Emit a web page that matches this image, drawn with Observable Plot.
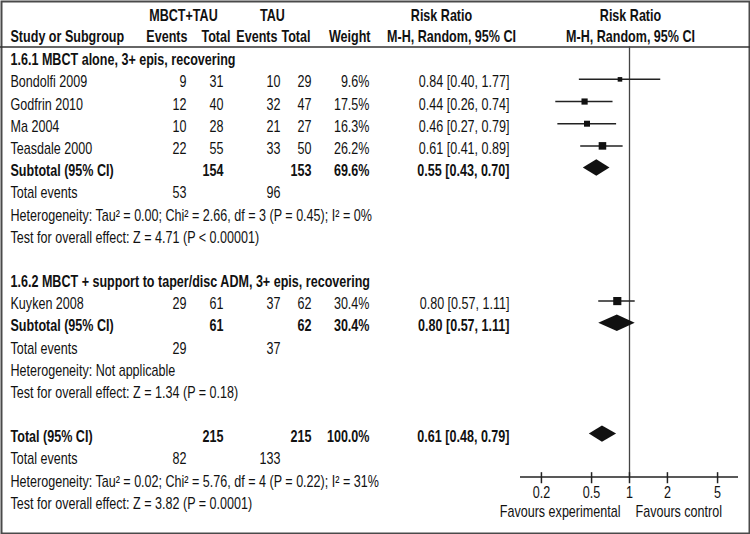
<!DOCTYPE html>
<html><head><meta charset="utf-8">
<script src="https://cdn.jsdelivr.net/npm/d3@7"></script>
<script src="https://cdn.jsdelivr.net/npm/@observablehq/plot@0.6"></script>
<style>
body{margin:0;background:#fff}
#chart svg{display:block}
</style>
</head><body><div id="chart"></div>
<script>
// ---------- data ----------
const groupTitles = ["1.6.1 MBCT alone, 3+ epis, recovering", "1.6.2 MBCT + support to taper/disc ADM, 3+ epis, recovering"];
const studies   = ["Bondolfi 2009", "Godfrin 2010", "Ma 2004", "Teasdale 2000", "Kuyken 2008"];
const studyGroup = [0, 0, 0, 0, 1];
const expEvents = [9, 12, 10, 22, 29];
const expTotal  = [31, 40, 28, 55, 61];
const ctlEvents = [10, 32, 21, 33, 37];
const ctlTotal  = [29, 47, 27, 50, 62];
const weights   = [9.6, 17.5, 16.3, 26.2, 30.4];
const riskRatio = [0.84, 0.44, 0.46, 0.61, 0.80];
const ciLow     = [0.40, 0.26, 0.27, 0.41, 0.57];
const ciHigh    = [1.77, 0.74, 0.79, 0.89, 1.11];

const subExpTotal  = [154, 61];
const subCtlTotal  = [153, 62];
const subWeight    = [69.6, 30.4];
const subExpEvents = [53, 29];
const subCtlEvents = [96, 37];
const subRR   = [0.55, 0.80];
const subLow  = [0.43, 0.57];
const subHigh = [0.70, 1.11];
const subHet  = ["Heterogeneity: Tau² = 0.00; Chi² = 2.66, df = 3 (P = 0.45); I² = 0%", "Heterogeneity: Not applicable"];
const subTest = ["Test for overall effect: Z = 4.71 (P < 0.00001)", "Test for overall effect: Z = 1.34 (P = 0.18)"];

const totExpTotal = 215, totCtlTotal = 215, totWeight = 100.0;
const totExpEvents = 82, totCtlEvents = 133;
const totRR = 0.61, totLow = 0.48, totHigh = 0.79;
const totHet  = "Heterogeneity: Tau² = 0.02; Chi² = 5.76, df = 4 (P = 0.22); I² = 31%";
const totTest = "Test for overall effect: Z = 3.82 (P = 0.0001)";

const headerTop = ["MBCT+TAU", "TAU", "Risk Ratio", "Risk Ratio"];
const headerBottom = ["Study or Subgroup", "Events", "Total", "Events", "Total", "Weight", "M-H, Random, 95% CI", "M-H, Random, 95% CI"];
const tickValues = [0.2, 0.5, 1, 2, 5];
const favourLabels = ["Favours experimental", "Favours control"];

// ---------- layout ----------
const FONT = "'Liberation Sans', Arial, sans-serif";
const FS = 16;
const NARROW = 0.785;
const colX = {label: 10, e1: 186, t1: 223, e2: 280, t2: 311, w: 369, rr: 509};
const colAnchor = {label: "start", e1: "end", t1: "end", e2: "end", t2: "end", w: "end", rr: "end"};
const headerTopX = [183, 272, 441, 630];
const headerBottomX = [10, 187, 230, 277, 310, 370, 451, 630];
const headerBottomAnchor = ["start", "end", "end", "end", "end", "end", "middle", "middle"];
const sepRow = -0.46, axisRow = 18.94, halfDiamond = 0.37;
const xDomain = [1 / 7.33, 7.33];

const fmt2 = v => v.toFixed(2);
const ciText = (m, l, h) => `${fmt2(m)} [${fmt2(l)}, ${fmt2(h)}]`;

const cells = [], forest = [], diamonds = [];
const add = (row, col, text, bold = false) => cells.push({row, col, text: String(text), bold});
let row = 0;
groupTitles.forEach((title, g) => {
  add(row, "label", title, true); row++;
  studies.forEach((s, i) => {
    if (studyGroup[i] !== g) return;
    add(row, "label", s); add(row, "e1", expEvents[i]); add(row, "t1", expTotal[i]);
    add(row, "e2", ctlEvents[i]); add(row, "t2", ctlTotal[i]);
    add(row, "w", weights[i].toFixed(1) + "%");
    add(row, "rr", ciText(riskRatio[i], ciLow[i], ciHigh[i]));
    forest.push({row, rr: riskRatio[i], lo: ciLow[i], hi: ciHigh[i], w: weights[i]});
    row++;
  });
  add(row, "label", "Subtotal (95% CI)", true); add(row, "t1", subExpTotal[g], true);
  add(row, "t2", subCtlTotal[g], true); add(row, "w", subWeight[g].toFixed(1) + "%", true);
  add(row, "rr", ciText(subRR[g], subLow[g], subHigh[g]), true);
  diamonds.push({row, est: subRR[g], lo: subLow[g], hi: subHigh[g], id: "s" + g});
  row++;
  add(row, "label", "Total events"); add(row, "e1", subExpEvents[g]); add(row, "e2", subCtlEvents[g]); row++;
  add(row, "label", subHet[g]); row++;
  add(row, "label", subTest[g]); row++;
  row++;
});
add(row, "label", "Total (95% CI)", true); add(row, "t1", totExpTotal, true); add(row, "t2", totCtlTotal, true);
add(row, "w", totWeight.toFixed(1) + "%", true); add(row, "rr", ciText(totRR, totLow, totHigh), true);
diamonds.push({row, est: totRR, lo: totLow, hi: totHigh, id: "t"});
row++;
add(row, "label", "Total events"); add(row, "e1", totExpEvents); add(row, "e2", totCtlEvents); row++;
add(row, "label", totHet); row++;
add(row, "label", totTest);
const lastRow = row;

const diamondPts = diamonds.flatMap(d => [
  {id: d.id, x: d.lo, y1: d.row, y2: d.row},
  {id: d.id, x: d.est, y1: d.row - halfDiamond, y2: d.row + halfDiamond},
  {id: d.id, x: d.hi, y1: d.row, y2: d.row}
]);

const TDY = 3;
const textMarks = [];
for (const col of Object.keys(colX)) {
  for (const bold of [false, true]) {
    const data = cells.filter(c => c.col === col && c.bold === bold);
    if (!data.length) continue;
    textMarks.push(Plot.text(data, {
      y: "row", text: "text", frameAnchor: "left", dx: colX[col], dy: TDY,
      textAnchor: colAnchor[col], fontWeight: bold ? "bold" : "normal", fontSize: FS, fill: "#111"
    }));
  }
}
headerTop.forEach((t, i) => textMarks.push(Plot.text([t], {
  y: () => -2, text: d => d, frameAnchor: "left", dx: headerTopX[i], dy: TDY,
  textAnchor: "middle", fontWeight: "bold", fontSize: FS, fill: "#111"})));
headerBottom.forEach((t, i) => textMarks.push(Plot.text([t], {
  y: () => -1, text: d => d, frameAnchor: "left", dx: headerBottomX[i], dy: TDY - 1,
  textAnchor: headerBottomAnchor[i], fontWeight: "bold", fontSize: FS, fill: "#111"})));

const chart = Plot.plot({
  width: 750, height: 534, margin: 0,
  x: {type: "log", domain: xDomain, range: [520, 738], axis: null},
  y: {domain: [0, lastRow], range: [56.7, 56.7 + 22.17 * lastRow], axis: null},
  r: {type: "sqrt", domain: [0, 30.4], range: [0, 4.6]},
  style: {fontFamily: FONT, fontSize: FS + "px", background: "#fff", color: "#111"},
  marks: [
    Plot.frame({stroke: "#4a4a4a", strokeWidth: 2, inset: 1}),
    Plot.ruleY([sepRow], {stroke: "#333", strokeWidth: 1.5}),
    Plot.ruleX([1], {y1: sepRow, y2: axisRow, stroke: "#444", strokeWidth: 1.3}),
    Plot.ruleY([axisRow], {x1: xDomain[0], x2: xDomain[1], stroke: "#222", strokeWidth: 1.5}),
    Plot.ruleX(tickValues, {x: d => d, y1: axisRow - 0.2, y2: axisRow + 0.3, stroke: "#222", strokeWidth: 1.5}),
    Plot.text(tickValues, {x: d => d, y: () => axisRow, dy: 16, text: d => String(d), fontSize: FS, fill: "#111"}),
    Plot.text([favourLabels[0]], {x: () => 1, y: () => axisRow, dx: -9, dy: 35, text: d => d, textAnchor: "end", fontSize: FS, fill: "#111"}),
    Plot.text([favourLabels[1]], {x: () => 1, y: () => axisRow, dx: 6, dy: 35, text: d => d, textAnchor: "start", fontSize: FS, fill: "#111"}),
    Plot.ruleY(forest, {y: "row", x1: "lo", x2: "hi", stroke: "#222", strokeWidth: 1.5}),
    Plot.dot(forest, {x: "rr", y: "row", r: "w", symbol: "square", fill: "#111", stroke: null}),
    Plot.areaY(diamondPts, {x: "x", y1: "y1", y2: "y2", z: "id", fill: "#111"}),
    ...textMarks
  ]
});
// condense glyphs horizontally around each text's anchor (reference uses a narrow typeface)
chart.querySelectorAll("text").forEach(t => {
  const x = parseFloat(t.getAttribute("x"));
  if (!isNaN(x) && x !== 0) t.setAttribute("x", x / NARROW);
  const tr = t.getAttribute("transform") || "";
  t.setAttribute("transform", `${tr} scale(${NARROW},1)`.trim());
});
document.getElementById("chart").append(chart);
</script>
</body></html>
